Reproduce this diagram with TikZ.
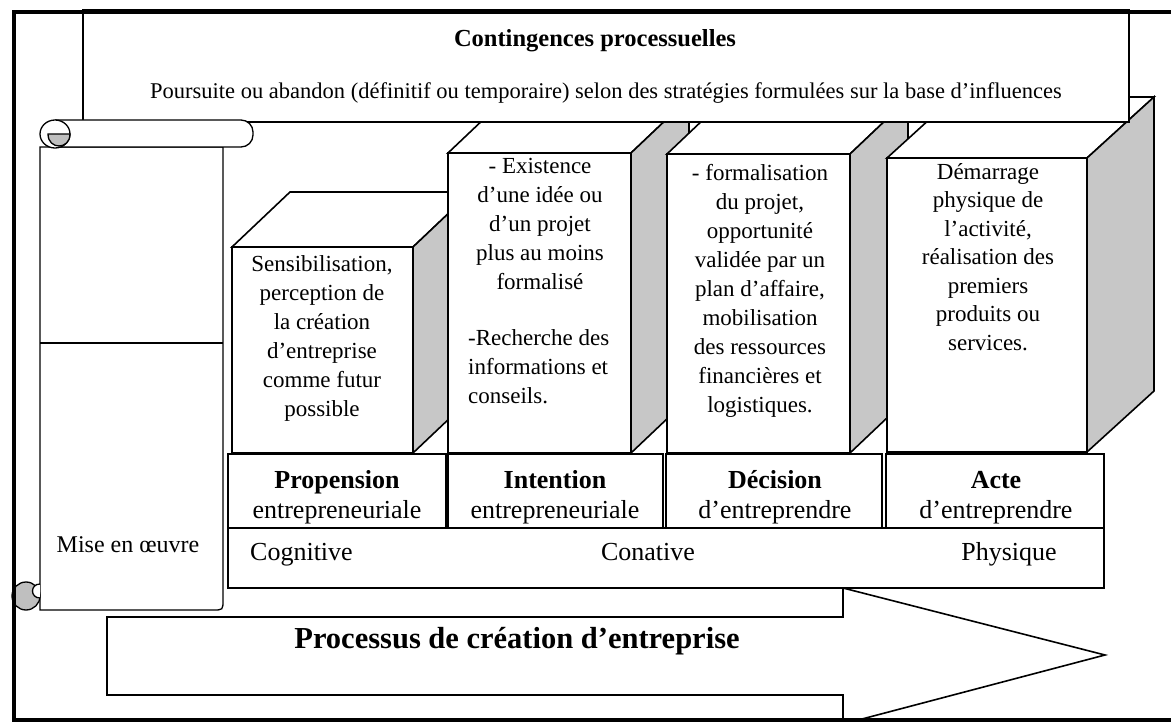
\documentclass[tikz,border=0pt]{standalone}
\usepackage{fontspec}
\setmainfont{Liberation Serif}
% one cube: front x1, x2, top, bottom, then the depth offset (dx, dy)
\newcommand\cubeblock[6]{%
  \filldraw[face] (#1,#3) -- ++(#5,#6) -- ++(#2-#1,0) -- (#2,#3) -- cycle;
  \filldraw[side] (#2,#3) -- ++(#5,#6) -- ++(0,#4-#3) -- (#2,#4) -- cycle;
  \filldraw[face] (#1,#3) rectangle (#2,#4);}
\begin{document}
\begin{tikzpicture}[x=1pt,y=-1pt,
  edge/.style={draw=black,line width=1.6pt,line join=miter},
  face/.style={edge,fill=white},
  side/.style={edge,fill=black!22},
  scrl/.style={draw=black,line width=1.3pt,fill=white},
  curl/.style={draw=black,line width=1.3pt,fill=black!25},
  blocktxt/.style={inner sep=0pt,anchor=base,align=center,font=\fontsize{23}{29}\selectfont},
  lblbold/.style={inner sep=0pt,anchor=base,font=\fontsize{26}{30}\selectfont\bfseries},
  lblreg/.style={inner sep=0pt,anchor=base,font=\fontsize{26}{30}\selectfont},
]
\useasboundingbox (0,0) rectangle (1171,722);
\clip (0,0) rectangle (1171,722);
\fill[white] (0,0) rectangle (1171,722);

% the four stages, from back to front
\cubeblock{232}{413}{247}{453}{58}{-55}
\cubeblock{448}{631}{153}{453}{58}{-55}
\cubeblock{667}{850}{154}{453}{58}{-55}
\cubeblock{887}{1087}{158}{452}{67}{-61}

% stage descriptions (each node is placed by the baseline of its last line)
\node[blocktxt] (b1) at (322,416) {Sensibilisation,\\perception de\\la création\\d’entreprise\\comme futur\\possible};
\node[blocktxt] (b2) at (540,290) {- Existence\\d’une idée ou\\d’un projet\\plus au moins\\formalisé};
\node[blocktxt,anchor=base west,align=left] (b2b) at (468,403) {-Recherche des\\informations et\\conseils.};
\node[blocktxt] (b3) at (760,412) {- formalisation\\du projet,\\opportunité\\validée par un\\plan d’affaire,\\mobilisation\\des ressources\\financières et\\logistiques.};
\node[blocktxt,font=\fontsize{23}{28.5}\selectfont] (b4) at (988,350) {Démarrage\\physique de\\l’activité,\\réalisation des\\premiers\\produits ou\\services.};

% banner on top
\filldraw[face] (83,10) rectangle (1129,122);
\node[inner sep=0pt,anchor=base,font=\fontsize{24.5}{28}\selectfont\bfseries] (title) at (595,47) {Contingences processuelles};
\node[inner sep=0pt,anchor=base,font=\fontsize{22.5}{26}\selectfont] (sub) at (606,99) {Poursuite ou abandon (définitif ou temporaire) selon des stratégies formulées sur la base d’influences};

% scroll on the left
\filldraw[scrl] (40,147) -- (40,610) -- (213,610) .. controls (223,610) .. (223,600) -- (223,147) -- cycle;
\draw[line width=1.3pt] (40,343) -- (223,343);
\filldraw[scrl,rounded corners=12pt] (55,120) -- (253,120) -- (253,147) -- (55,147);
\filldraw[scrl] (55,134) ellipse [x radius=15, y radius=14];
\filldraw[curl] (48,134) -- (70,134) .. controls (70,150) and (48,150) .. (48,134) -- cycle;
\filldraw[curl] (26,596) circle [radius=14];
\filldraw[scrl] (40,584) .. controls (30,584) and (30,598) .. (40,598);
\node[inner sep=0pt,anchor=base,font=\fontsize{24}{28}\selectfont] (mise) at (128,552) {Mise en œuvre};

% process arrow
\filldraw[face] (107,617) -- (843,617) -- (843,588) -- (1105,655) -- (843,724) -- (843,695) -- (107,695) -- cycle;
\node[inner sep=0pt,anchor=base,font=\fontsize{30.5}{34}\selectfont\bfseries] (proc) at (517,648) {Processus de création d’entreprise};

% stage names
\filldraw[face] (228,454) rectangle (446,528);
\filldraw[face] (448,454) rectangle (663,528);
\filldraw[face] (666,454) rectangle (882,528);
\filldraw[face] (886,454) rectangle (1104,528);
\node[lblbold] (n1) at (337,488) {Propension};
\node[lblreg]  (s1) at (337,518) {entrepreneuriale};
\node[lblbold] (n2) at (555,488) {Intention};
\node[lblreg]  (s2) at (555,518) {entrepreneuriale};
\node[lblbold] (n3) at (775,488) {Décision};
\node[lblreg]  (s3) at (775,518) {d’entreprendre};
\node[lblbold] (n4) at (996,488) {Acte};
\node[lblreg]  (s4) at (996,518) {d’entreprendre};

% kind of engagement
\filldraw[face] (228,528) rectangle (1104,588);
\node[lblreg,anchor=base west] (cog) at (250,560) {Cognitive};
\node[lblreg] (con) at (648,560) {Conative};
\node[lblreg] (phy) at (1009,560) {Physique};

% outer frame
\draw[line width=4pt] (1175,12) -- (14,12) -- (14,720) -- (1175,720);
\end{tikzpicture}
\end{document}
